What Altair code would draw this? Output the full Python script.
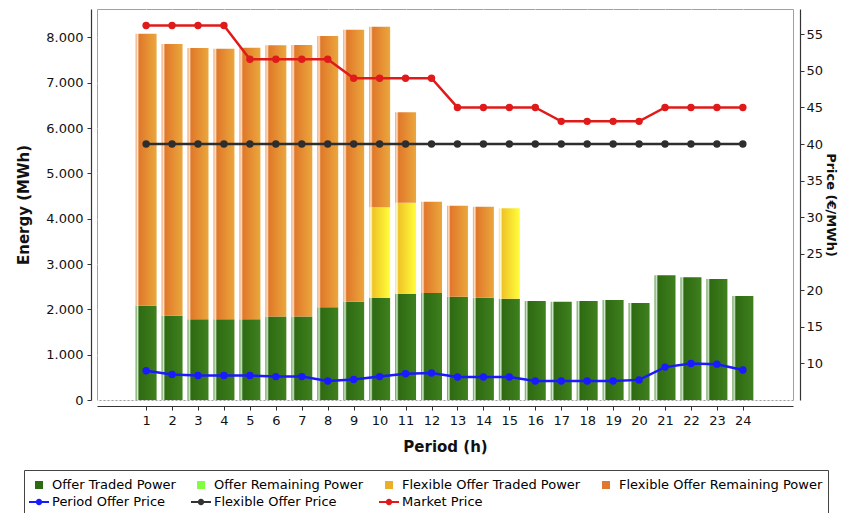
import altair as alt
import pandas as pd

# ---------------- data ----------------
hours = list(range(1, 25))

offer_traded = [2080, 1860, 1780, 1780, 1780, 1840, 1840, 2045, 2170, 2250, 2345, 2360,
                2280, 2255, 2235, 2185, 2170, 2185, 2205, 2140, 2750, 2705, 2670, 2295]
offer_remaining = [0, 0, 0, 0, 0, 0, 0, 0, 0, 0, 0, 0,
                   0, 0, 0, 0, 0, 0, 0, 0, 0, 0, 0, 0]
flex_traded = [0, 0, 0, 0, 0, 0, 0, 0, 0, 2000, 2005, 0,
               0, 0, 1995, 0, 0, 0, 0, 0, 0, 0, 0, 0]
flex_remaining = [6000, 5995, 5985, 5970, 5990, 5985, 5990, 5985, 6000, 3985, 1995, 2015,
                  2005, 2010, 0, 0, 0, 0, 0, 0, 0, 0, 0, 0]

period_offer_price = [9.0, 8.5, 8.35, 8.35, 8.35, 8.2, 8.2, 7.6, 7.8, 8.2, 8.6, 8.7,
                      8.15, 8.15, 8.15, 7.6, 7.6, 7.6, 7.6, 7.75, 9.5, 10.0, 9.9, 9.1]
flexible_offer_price = [40, 40, 40, 40, 40, 40, 40, 40, 40, 40, 40, 40,
                        40, 40, 40, 40, 40, 40, 40, 40, 40, 40, 40, 40]
market_price = [56.2, 56.2, 56.2, 56.2, 51.6, 51.6, 51.6, 51.6, 49.0, 49.0, 49.0, 49.0,
                45.0, 45.0, 45.0, 45.0, 43.1, 43.1, 43.1, 43.1, 45.0, 45.0, 45.0, 45.0]

bar_names = ["Offer Traded Power", "Offer Remaining Power",
             "Flexible Offer Traded Power", "Flexible Offer Remaining Power"]
line_names = ["Period Offer Price", "Flexible Offer Price", "Market Price"]

energy_ticks = [0, 1000, 2000, 3000, 4000, 5000, 6000, 7000, 8000]
price_ticks = [10, 15, 20, 25, 30, 35, 40, 45, 50, 55]

# ---------------- tables ----------------
bar_values = [offer_traded, offer_remaining, flex_traded, flex_remaining]
rows = []
base = [0] * len(hours)
for name, vals in zip(bar_names, bar_values):
    for i, h in enumerate(hours):
        v = vals[i]
        if v > 0:
            rows.append({"hour": h, "series": name, "y0": base[i], "y1": base[i] + v})
        base[i] += v
bars_df = pd.DataFrame(rows)

line_values = [period_offer_price, flexible_offer_price, market_price]
prow = []
for name, vals in zip(line_names, line_values):
    for h, v in zip(hours, vals):
        prow.append({"hour": h, "series": name, "price": v})
price_df = pd.DataFrame(prow)

# ---------------- styles ----------------
def grad(stops):
    return {"gradient": "linear", "x1": 0, "x2": 1, "y1": 0, "y2": 0,
            "stops": [{"offset": o, "color": c} for o, c in stops]}

bar_fills = {
    "Offer Traded Power": grad([(0, "#5c9644"), (0.09, "#d4ead0"), (0.17, "#2e6a12"), (1, "#3f801e")]),
    "Offer Remaining Power": grad([(0, "#a0ff70"), (0.09, "#f0fff0"), (0.17, "#70f030"), (1, "#90ff50")]),
    "Flexible Offer Traded Power": grad([(0, "#f2e27a"), (0.09, "#fffbe0"), (0.17, "#f0c426"), (1, "#ffff3c")]),
    "Flexible Offer Remaining Power": grad([(0, "#eea06a"), (0.09, "#fde4cc"), (0.17, "#e0782a"), (1, "#eba73c")]),
}
line_colors = {"Period Offer Price": "#1a1aff",
               "Flexible Offer Price": "#2e2e2e",
               "Market Price": "#e01a1a"}
legend_colors = ["#2d6a12", "#80ff40", "#e8b02a", "#e07830",
                 "#1a1aff", "#333333", "#e01a1a"]
sq = "M-0.4,-0.4H0.4V0.4H-0.4Z"
ld = "M-1,-0.1H1V0.1H-1Z M-0.32,0A0.32,0.32 0 1,1 0.32,0A0.32,0.32 0 1,1 -0.32,0Z"
legend_shapes = [sq, sq, sq, sq, ld, ld, ld]

FONT = "DejaVu Sans"

x_enc = alt.X(
    "hour:Q",
    scale=alt.Scale(domain=[-0.7, 25.74], nice=False, zero=False),
    axis=alt.Axis(values=hours, format="d", title="Period (h)", grid=True,
                  gridColor="white", gridDash=[2, 2], gridOpacity=0.85,
                  offset=6, tickSize=4, labelPadding=4, titlePadding=12),
)

energy_axis = alt.Axis(values=energy_ticks,
                       labelExpr="replace(format(datum.value, ','), ',', '.')",
                       title="Energy (MWh)", grid=True, gridColor="white",
                       gridDash=[2, 2], gridOpacity=0.85, offset=6, tickSize=4,
                       labelPadding=4, titlePadding=14)
energy_scale = alt.Scale(domain=[0, 8625], nice=False, zero=True)

price_axis = alt.Axis(orient="right", values=price_ticks, title="Price (€/MWh)",
                      grid=False, offset=7, tickSize=4, labelPadding=2,
                      titlePadding=1, titleFontSize=13)
price_scale = alt.Scale(domain=[5, 58.46], nice=False, zero=False)

# ---------------- layers ----------------
bar_layers = []
for name in bar_names:
    if not (bars_df["series"] == name).any():
        continue
    bar_layers.append(
        alt.Chart(bars_df)
        .transform_filter(alt.datum.series == name)
        .mark_bar(size=21, fill=bar_fills[name], strokeWidth=0)
        .encode(x=x_enc,
                y=alt.Y("y0:Q", scale=energy_scale, axis=energy_axis),
                y2="y1:Q")
    )
bars = alt.layer(*bar_layers)

line_layers = []
for name in line_names:
    c = line_colors[name]
    sub = alt.Chart(price_df).transform_filter(alt.datum.series == name)
    line_layers.append(
        sub.mark_line(color=c, strokeWidth=2.5).encode(
            x=x_enc, y=alt.Y("price:Q", scale=price_scale, axis=price_axis)))
    line_layers.append(
        sub.mark_circle(color=c, size=55, opacity=1).encode(
            x=x_enc, y=alt.Y("price:Q", scale=price_scale, axis=price_axis)))
lines = alt.layer(*line_layers)

legend_names = bar_names + line_names
leg = alt.Legend(title=None, orient="none", legendX=-73, legendY=461,
                 direction="horizontal", columns=4, gridAlign="none",
                 symbolSize=400, symbolStrokeWidth=0, symbolOpacity=1,
                 labelFontSize=13, labelFont=FONT, labelLimit=500, labelOffset=3,
                 columnPadding=15, rowPadding=0, padding=5,
                 strokeColor="#444444", fillColor="white")
legend_layer = (
    alt.Chart(price_df)
    .transform_filter("false")
    .mark_point(filled=True, size=400, opacity=1)
    .encode(
        color=alt.Color("series:N", scale=alt.Scale(domain=legend_names, range=legend_colors), legend=leg),
        shape=alt.Shape("series:N", scale=alt.Scale(domain=legend_names, range=legend_shapes), legend=leg),
    )
)

chart = (
    alt.layer(bars, lines, legend_layer)
    .resolve_scale(y="independent")
    .properties(width=696, height=391,
                autosize=alt.AutoSizeParams(type="none"),
                padding={"left": 89, "top": 1, "right": 47, "bottom": 113})
    .configure_view(fill="#c8c8c8", stroke="#a0a0a0")
    .configure_axis(labelFont=FONT, titleFont=FONT, labelFontSize=13,
                    titleFontSize=15, titleFontWeight="bold", labelColor="#111111",
                    titleColor="#111111", domainColor="#333333", tickColor="#333333",
                    domainWidth=1.2)
)

chart.save("out.html", embed_options={"renderer": "svg", "actions": False})
